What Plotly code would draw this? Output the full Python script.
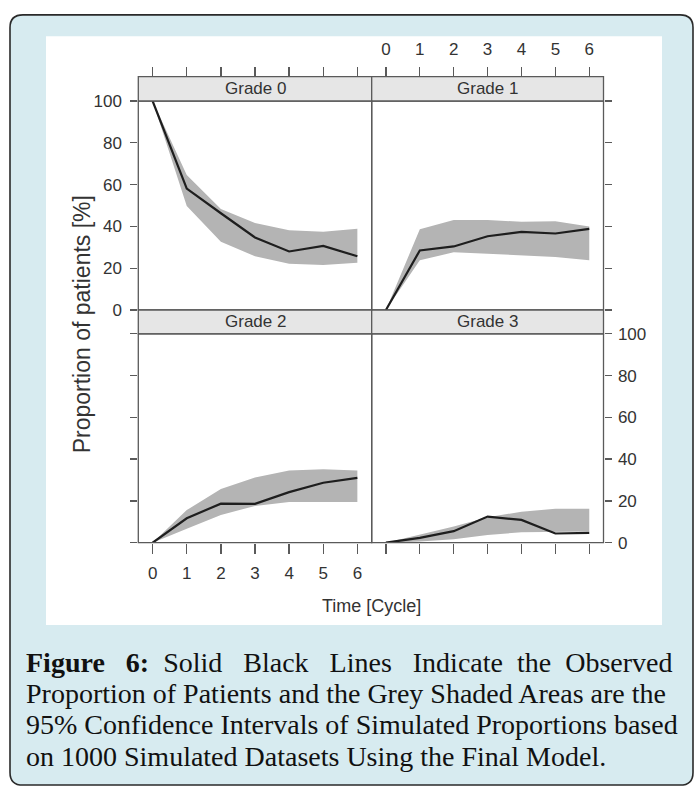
import plotly.graph_objects as go

# ---------------- data ----------------
cycles = [0, 1, 2, 3, 4, 5, 6]
grades = ["Grade 0", "Grade 1", "Grade 2", "Grade 3"]

obs_g0 = [100, 58.1, 46.3, 34.7, 28.0, 30.7, 25.7]
up_g0 = [100, 64.6, 48.3, 41.6, 38.1, 37.4, 38.9]
lo_g0 = [100, 49.8, 32.7, 25.7, 22.1, 21.5, 22.6]

obs_g1 = [0, 28.5, 30.4, 35.3, 37.4, 36.6, 38.8]
up_g1 = [0, 38.6, 43.1, 43.1, 42.2, 42.5, 40.0]
lo_g1 = [0, 23.8, 27.6, 26.9, 26.3, 25.4, 23.8]

obs_g2 = [0, 11.7, 18.7, 18.6, 24.2, 28.7, 31.0]
up_g2 = [0, 15.6, 25.7, 31.2, 34.6, 35.2, 34.6]
lo_g2 = [0, 6.7, 13.3, 17.6, 19.5, 19.5, 19.5]

obs_g3 = [0, 2.3, 5.5, 12.5, 10.9, 4.4, 4.7]
up_g3 = [0, 3.9, 7.8, 12.2, 14.8, 16.2, 16.2]
lo_g3 = [0, 0.6, 1.6, 3.7, 5.0, 5.3, 5.3]

y_ticks = [0, 20, 40, 60, 80, 100]

caption_line1 = ["<b>Figure</b>", "<b>6:</b>", "Solid", "Black", "Lines", "Indicate", "the", "Observed"]
caption_gaps = [3, 2, 3, 3, 3, 2, 2]   # justified spacing of the first caption line
caption_lines = [
    "Proportion of Patients and the Grey Shaded Areas are the",
    "95% Confidence Intervals of Simulated Proportions based",
    "on 1000 Simulated Datasets Using the Final Model.",
]

# ---------------- layout helpers ----------------
W, H = 697, 798
def px(x):
    return x / W
def py(y):
    return 1 - y / H

SANS = "Liberation Sans, Arial, sans-serif"
SERIF = "Liberation Serif, Times New Roman, serif"
TXT = "#333333"
LINEC = "#5a5a5a"

colL = (138.3, 371.7)
colR = (371.7, 603.5)
stripTop = (69.3, 94.3)
bodyTop = (94.3, 308.3)
stripBot = (308.3, 332.7)
bodyBot = (332.7, 546.7)

fig = go.Figure()

series = [
    (obs_g0, up_g0, lo_g0, "x", "y"),
    (obs_g1, up_g1, lo_g1, "x2", "y2"),
    (obs_g2, up_g2, lo_g2, "x3", "y3"),
    (obs_g3, up_g3, lo_g3, "x4", "y4"),
]
for obs, up, lo, xa, ya in series:
    fig.add_trace(go.Scatter(
        x=cycles + cycles[::-1], y=up + lo[::-1], fill="toself",
        fillcolor="#b4b4b4", line=dict(width=0, color="#b4b4b4"),
        mode="lines", hoverinfo="skip", showlegend=False, xaxis=xa, yaxis=ya))
    fig.add_trace(go.Scatter(
        x=cycles, y=obs, mode="lines", line=dict(color="#1e1e1e", width=2.2),
        showlegend=False, xaxis=xa, yaxis=ya))

shapes = []
x0, x1, y0, y1, r = 10, 693, 6, 795, 13
path = (f"M {px(x0 + r)},{py(y0)} L {px(x1 - r)},{py(y0)} "
        f"Q {px(x1)},{py(y0)} {px(x1)},{py(y0 + r)} "
        f"L {px(x1)},{py(y1 - r)} Q {px(x1)},{py(y1)} {px(x1 - r)},{py(y1)} "
        f"L {px(x0 + r)},{py(y1)} Q {px(x0)},{py(y1)} {px(x0)},{py(y1 - r)} "
        f"L {px(x0)},{py(y0 + r)} Q {px(x0)},{py(y0)} {px(x0 + r)},{py(y0)} Z")
shapes.append(dict(type="path", xref="paper", yref="paper", path=path,
                   fillcolor="#d7ebf0", line=dict(color="#2a2a2a", width=1.6), layer="below"))
shapes.append(dict(type="rect", xref="paper", yref="paper", x0=px(46), x1=px(662),
                   y0=py(631), y1=py(28), fillcolor="white", line=dict(width=0), layer="below"))
for c in (colL, colR):
    for s in (stripTop, stripBot):
        shapes.append(dict(type="rect", xref="paper", yref="paper", x0=px(c[0]), x1=px(c[1]),
                           y0=py(s[1]), y1=py(s[0]), fillcolor="#e6e6e6",
                           line=dict(color=LINEC, width=1.3), layer="below"))
for c in (colL, colR):
    for b in (bodyTop, bodyBot):
        shapes.append(dict(type="rect", xref="paper", yref="paper", x0=px(c[0]), x1=px(c[1]),
                           y0=py(b[1]), y1=py(b[0]), fillcolor="rgba(0,0,0,0)",
                           line=dict(color=LINEC, width=1.3), layer="above"))

annotations = []
strip_pos = [(colL, stripTop), (colR, stripTop), (colL, stripBot), (colR, stripBot)]
for g, (c, s) in zip(grades, strip_pos):
    annotations.append(dict(text=g, xref="paper", yref="paper", x=px((c[0] + c[1]) / 2),
                            y=py((s[0] + s[1]) / 2), showarrow=False, xanchor="center",
                            yanchor="middle", font=dict(family=SANS, size=17, color=TXT)))
annotations.append(dict(text="Time [Cycle]", xref="paper", yref="paper", x=px(371.7), y=py(612),
                        showarrow=False, xanchor="center", yanchor="middle",
                        font=dict(family=SANS, size=18, color=TXT)))
annotations.append(dict(text="Proportion of patients [%]", xref="paper", yref="paper",
                        x=px(82), y=py(323), textangle=-90, showarrow=False,
                        xanchor="center", yanchor="middle",
                        font=dict(family=SANS, size=23, color=TXT)))

# caption: one text block, 28px glyphs on a 31.2px line pitch (24px * 1.3)
line1 = ""
for i, w in enumerate(caption_line1):
    line1 += w
    if i < len(caption_gaps):
        line1 += "&nbsp;" * caption_gaps[i]
all_lines = [line1] + caption_lines
caption = "<br>".join(f'<span style="font-size:28px">{l}</span>' for l in all_lines)
annotations.append(dict(text=caption, xref="paper", yref="paper", x=px(25), y=py(653),
                        showarrow=False, xanchor="left", yanchor="top", align="left",
                        borderpad=0, font=dict(family=SERIF, size=24, color="#111")))

tickfont = dict(family=SANS, size=17, color=TXT)
def xax(dom, show, side, anchor, position=None):
    d = dict(domain=[px(dom[0]), px(dom[1])], range=[-0.42, 6.42], tickvals=cycles,
             ticks="outside", ticklen=10, tickwidth=1.3, tickcolor=LINEC,
             showticklabels=show, side=side, showgrid=False, zeroline=False,
             showline=False, tickfont=tickfont, fixedrange=True,
             ticklabelstandoff=5)
    if position is None:
        d["anchor"] = anchor
    else:
        d["anchor"] = "free"
        d["position"] = position
    return d

def yax(dom, show, side, anchor, standoff):
    return dict(domain=[py(dom[1]), py(dom[0])], range=[0, 100], tickvals=y_ticks,
                ticks="outside", ticklen=7, tickwidth=1.3, tickcolor=LINEC,
                showticklabels=show, side=side, anchor=anchor, showgrid=False,
                zeroline=False, showline=False, tickfont=tickfont, fixedrange=True,
                ticklabelstandoff=standoff)

fig.update_layout(
    width=W, height=H, margin=dict(l=0, r=0, t=0, b=0),
    paper_bgcolor="white", plot_bgcolor="rgba(0,0,0,0)",
    showlegend=False,
    xaxis=xax(colL, False, "top", None, position=py(stripTop[0])),
    xaxis2=xax(colR, True, "top", None, position=py(stripTop[0])),
    xaxis3=xax(colL, True, "bottom", "y3"),
    xaxis4=xax(colR, False, "bottom", "y4"),
    yaxis=yax(bodyTop, True, "left", "x", 5),
    yaxis2=yax(bodyTop, False, "right", "x2", 3),
    yaxis3=yax(bodyBot, False, "left", "x3", 5),
    yaxis4=yax(bodyBot, True, "right", "x4", 3),
    shapes=shapes, annotations=annotations,
)

fig.write_html("out.html", config={"displayModeBar": False, "staticPlot": True},
               post_script="document.body.style.margin='0px';document.body.style.overflow='hidden';")
